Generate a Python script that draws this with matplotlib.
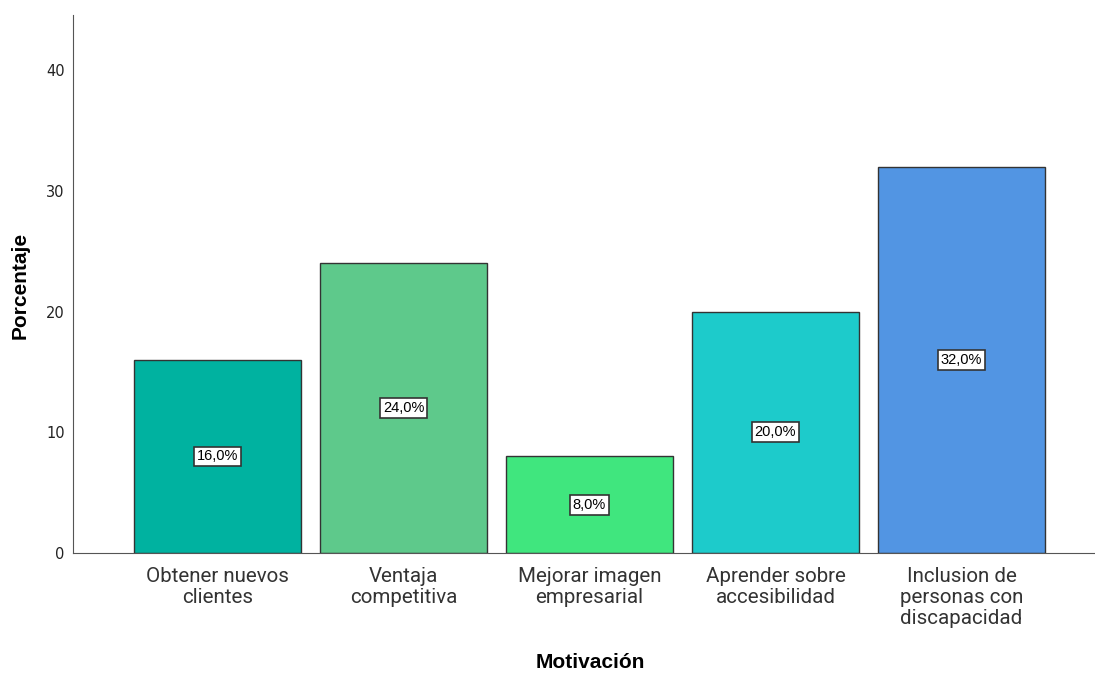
import matplotlib.pyplot as plt

# --- DATA ---
categorias = [
    "Obtener nuevos\nclientes",
    "Ventaja\ncompetitiva",
    "Mejorar imagen\nempresarial",
    "Aprender sobre\naccesibilidad",
    "Inclusion de\npersonas con\ndiscapacidad",
]
porcentajes = [16.0, 24.0, 8.0, 20.0, 32.0]
colores = ["#00B2A0", "#5EC98B", "#40E67E", "#1DCBCB", "#5295E3"]
y_ticks = [0, 10, 20, 30, 40]

# --- PLOT ---
fig = plt.figure(figsize=(10.95, 6.73), dpi=100)
ax = fig.add_axes([73 / 1095, 120 / 673, 1022 / 1095, 538 / 673])

x = list(range(len(categorias)))
ax.bar(x, porcentajes, width=0.9, color=colores, edgecolor="#333333", linewidth=1.0)

for xi, v in zip(x, porcentajes):
    ax.text(xi, v / 2, f"{v:.1f}%".replace(".", ","), ha="center", va="center",
            fontsize=10.5, family="Liberation Sans",
            bbox=dict(boxstyle="square,pad=0.2", fc="white", ec="#333333", lw=1.2))

ax.set_xlim(-0.777, 4.718)
ax.set_ylim(0, 44.6)
ax.set_yticks(y_ticks)
ax.set_xticks(x)
ax.set_xticklabels(categorias, fontsize=14.8, family="Roboto", color="#333333",
                   linespacing=1.13)
ax.tick_params(axis="both", length=0)
ax.tick_params(axis="y", labelsize=10.5, pad=6, labelcolor="#222222")
ax.tick_params(axis="x", pad=10)

for s in ["top", "right"]:
    ax.spines[s].set_visible(False)
ax.spines["left"].set_color("#555555")
ax.spines["bottom"].set_color("#555555")

fig.text(20 / 1095, 1 - 285 / 673, "Porcentaje", rotation=90, ha="center", va="center",
         fontsize=15, fontweight="bold", family="Liberation Sans")
fig.text(590 / 1095, 1 - 662 / 673, "Motivación", ha="center", va="center",
         fontsize=15, fontweight="bold", family="Liberation Sans")

plt.savefig("out.png", dpi=100)
